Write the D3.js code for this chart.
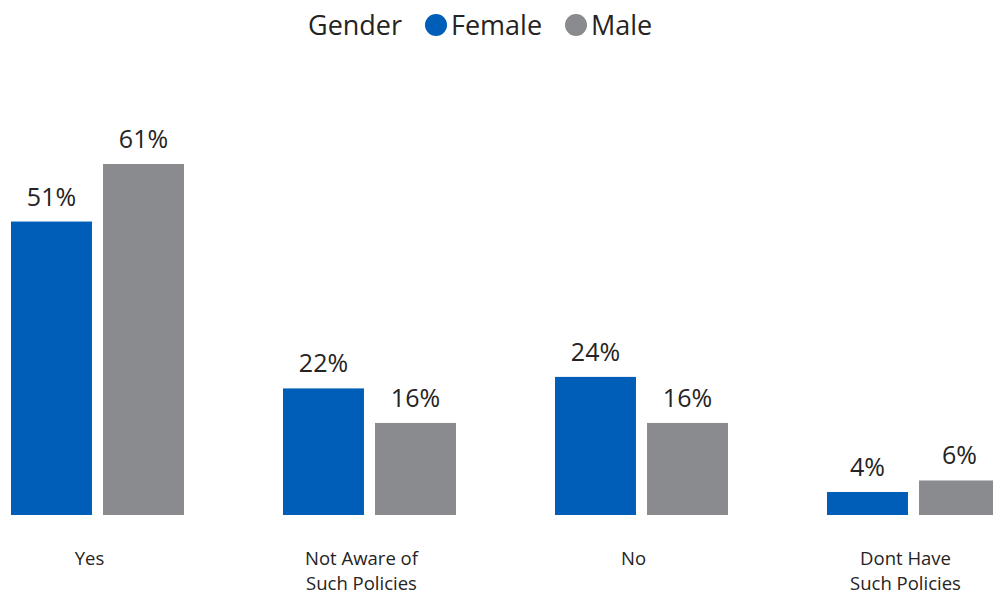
<!doctype html>
<html lang="en">
<head>
<meta charset="utf-8">
<title>Gender chart</title>
<script src="https://cdn.jsdelivr.net/npm/d3@7/dist/d3.min.js"></script>
<style>
  body { margin: 0; background: #fff; }
  svg { display: block; font-family: "Open Sans", "Noto Sans", sans-serif; }
  .val { font-size: 25px; fill: #252423; text-anchor: middle; }
  .cat { font-size: 18.5px; fill: #252423; text-anchor: middle; }
  .leg { font-size: 27px; fill: #252423; }
</style>
</head>
<body>
<div id="viz"></div>
<script>
// DATA
var categories = ["Yes", "Not Aware of|Such Policies", "No", "Dont Have|Such Policies"];
var series = ["Female", "Male"];
var female = [51, 22, 24, 4];
var male = [61, 16, 16, 6];

var colors = { Female: "#005EB8", Male: "#8A8B8F" };

var w = 993, h = 595;
var baseline = 515;

var svg = d3.select("#viz").append("svg")
  .attr("width", w)
  .attr("height", h);

var x0 = d3.scaleBand()
  .domain(categories)
  .range([11, 1000])
  .paddingInner(0.364)
  .paddingOuter(0);

var x1 = d3.scaleBand()
  .domain(series)
  .range([0, x0.bandwidth()])
  .paddingInner(0.12);

var y = d3.scaleLinear()
  .domain([0, 61])
  .range([baseline, 164]);

var rows = categories.map(function(c, i) {
  return { cat: c, values: [
    { key: "Female", v: female[i] },
    { key: "Male", v: male[i] }
  ] };
});

var groups = svg.selectAll("g.grp")
  .data(rows)
  .enter().append("g")
  .attr("class", "grp")
  .attr("transform", function(d) { return "translate(" + x0(d.cat) + ",0)"; });

groups.selectAll("rect")
  .data(function(d) { return d.values; })
  .enter().append("rect")
  .attr("x", function(d) { return x1(d.key); })
  .attr("y", function(d) { return y(d.v); })
  .attr("width", x1.bandwidth())
  .attr("height", function(d) { return baseline - y(d.v); })
  .attr("fill", function(d) { return colors[d.key]; });

groups.selectAll("text.val")
  .data(function(d) { return d.values; })
  .enter().append("text")
  .attr("class", "val")
  .attr("x", function(d) { return x1(d.key) + x1.bandwidth() / 2; })
  .attr("y", function(d) { return y(d.v) - 16; })
  .text(function(d) { return d.v + "%"; });

// category labels (two lines where needed)
var cat = svg.selectAll("text.cat")
  .data(categories)
  .enter().append("text")
  .attr("class", "cat")
  .attr("transform", function(d) { return "translate(" + (x0(d) + x0.bandwidth() / 2 - 8) + ",565)"; });

cat.selectAll("tspan")
  .data(function(d) { return d.split("|"); })
  .enter().append("tspan")
  .attr("x", 0)
  .attr("dy", function(d, i) { return i ? 25 : 0; })
  .text(function(d) { return d; });

// legend
var leg = svg.append("g").attr("transform", "translate(308,35)");
leg.append("text").attr("class", "leg").attr("x", 0).text("Gender");
var items = [{ k: "Female", cx: 436 }, { k: "Male", cx: 576 }];
items.forEach(function(it) {
  leg.append("circle")
    .attr("cx", it.cx - 308)
    .attr("cy", -10)
    .attr("r", 11)
    .attr("fill", colors[it.k]);
  leg.append("text").attr("class", "leg")
    .attr("x", it.cx - 308 + 15)
    .text(it.k);
});
</script>
</body>
</html>
